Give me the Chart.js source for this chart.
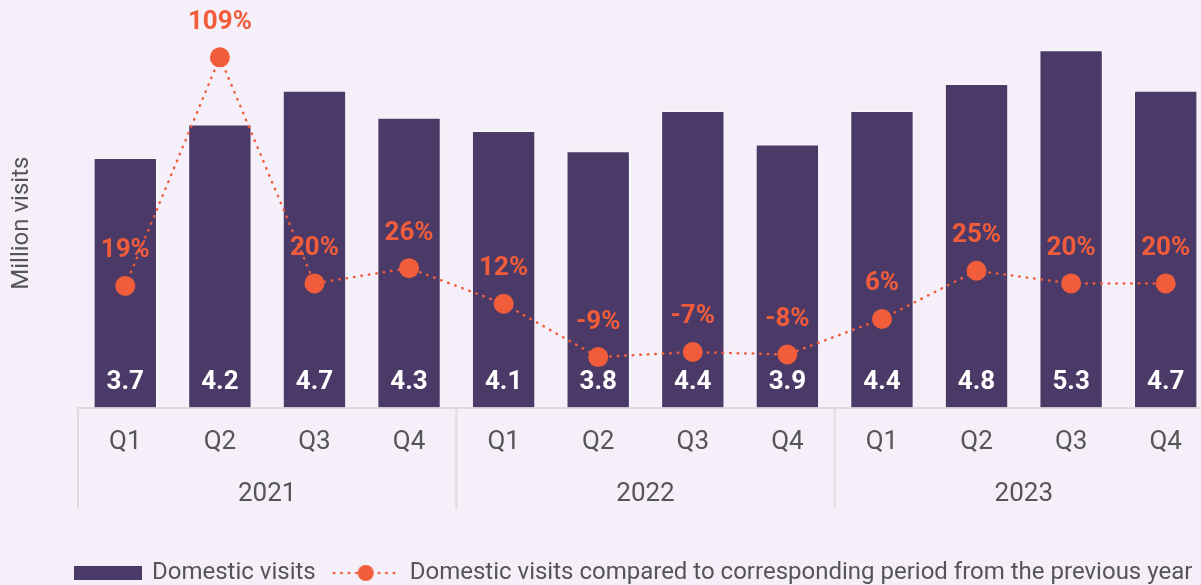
<!DOCTYPE html>
<html>
<head>
<meta charset="utf-8">
<script src="https://cdn.jsdelivr.net/npm/chart.js@4.4.0/dist/chart.umd.min.js"></script>
<style>
  html, body { margin: 0; padding: 0; background: #f5effa; overflow: hidden; }
  #wrap { position: relative; width: 1213px; height: 595px; }
</style>
</head>
<body>
<div id="wrap"><canvas id="chart"></canvas></div>
<script>
const quarters = ['Q1', 'Q2', 'Q3', 'Q4', 'Q1', 'Q2', 'Q3', 'Q4', 'Q1', 'Q2', 'Q3', 'Q4'];
const years = ['2021', '2022', '2023'];
const domesticVisits = [3.7, 4.2, 4.7, 4.3, 4.1, 3.8, 4.4, 3.9, 4.4, 4.8, 5.3, 4.7];
const yearOnYearChange = [19, 109, 20, 26, 12, -9, -7, -8, 6, 25, 20, 20];

const PURPLE = '#4b3a67';
const ORANGE = '#f15c3a';
const GREY = '#555555';
const LINE_GREY = '#dcdcdc';
const FONT = "Roboto, 'Noto Sans', sans-serif";
const YEAR_ROW_EXTRA = 30;

Chart.defaults.font.family = FONT;
Chart.defaults.color = GREY;

// legend icons
const barIcon = document.createElement('canvas');
barIcon.width = 68;
barIcon.height = 14;
{
  const c = barIcon.getContext('2d');
  c.fillStyle = PURPLE;
  c.fillRect(0, 0, 68, 14);
}
const lineIcon = document.createElement('canvas');
lineIcon.width = 68;
lineIcon.height = 18;
{
  const c = lineIcon.getContext('2d');
  c.strokeStyle = ORANGE;
  c.lineWidth = 2.5;
  c.lineCap = 'round';
  c.setLineDash([0.5, 7]);
  c.beginPath();
  c.moveTo(2, 9);
  c.lineTo(66, 9);
  c.stroke();
  c.fillStyle = ORANGE;
  c.beginPath();
  c.arc(34, 9, 8, 0, Math.PI * 2);
  c.fill();
}

const valueLabels = {
  id: 'valueLabels',
  afterDatasetsDraw(chart) {
    const ctx = chart.ctx;
    ctx.save();
    ctx.textAlign = 'center';
    ctx.textBaseline = 'middle';
    ctx.font = `bold 26px ${FONT}`;
    chart.getDatasetMeta(0).data.forEach((bar, i) => {
      ctx.fillStyle = '#ffffff';
      ctx.fillText(domesticVisits[i].toFixed(1), bar.x, bar.base - 25);
    });
    chart.getDatasetMeta(1).data.forEach((pt, i) => {
      ctx.fillStyle = ORANGE;
      ctx.fillText(yearOnYearChange[i] + '%', pt.x, pt.y - 35);
    });
    ctx.restore();
  },
};

// vertical separators between the year groups
const groupLines = {
  id: 'groupLines',
  afterDraw(chart) {
    const { x, x2 } = chart.scales;
    const half = (x2.getPixelForValue(1) - x2.getPixelForValue(0)) / 2;
    const ctx = chart.ctx;
    ctx.save();
    ctx.strokeStyle = LINE_GREY;
    ctx.lineWidth = 2;
    for (let g = 0; g <= years.length; g++) {
      const px = x2.getPixelForValue(g) - half;
      ctx.beginPath();
      ctx.moveTo(px, x.top);
      ctx.lineTo(px, x2.bottom - YEAR_ROW_EXTRA - 4);
      ctx.stroke();
    }
    ctx.restore();
  },
};

new Chart(document.getElementById('chart'), {
  type: 'bar',
  data: {
    labels: quarters,
    datasets: [
      {
        label: 'Domestic visits',
        data: domesticVisits,
        backgroundColor: PURPLE,
        borderColor: 'rgba(255,255,255,0.55)',
        borderWidth: 1,
        barPercentage: 0.67,
        categoryPercentage: 1,
        yAxisID: 'y',
        order: 2,
      },
      {
        type: 'line',
        label: 'Domestic visits compared to corresponding period from the previous year',
        data: yearOnYearChange,
        yAxisID: 'y2',
        borderColor: ORANGE,
        borderWidth: 2.5,
        borderDash: [0.5, 7],
        borderCapStyle: 'round',
        pointRadius: 10,
        pointHoverRadius: 10,
        pointBackgroundColor: ORANGE,
        pointBorderWidth: 0,
        tension: 0,
        order: 1,
      },
    ],
  },
  options: {
    responsive: true,
    maintainAspectRatio: false,
    animation: false,
    layout: { autoPadding: false, padding: { top: 3, left: 58, right: 0, bottom: 0 } },
    plugins: {
      tooltip: { enabled: false },
      legend: {
        position: 'bottom',
        align: 'start',
        labels: {
          usePointStyle: true,
          pointStyleWidth: 64,
          boxHeight: 14,
          padding: 18,
          color: GREY,
          font: { size: 24 },
          generateLabels: (chart) =>
            chart.data.datasets.map((ds, i) => ({
              text: ds.label,
              pointStyle: i === 0 ? barIcon : lineIcon,
              fillStyle: i === 0 ? PURPLE : ORANGE,
              strokeStyle: 'transparent',
              lineWidth: 0,
              fontColor: GREY,
              hidden: false,
              datasetIndex: i,
            })),
        },
      },
    },
    scales: {
      x: {
        weight: 0,
        grid: { display: false, drawTicks: false },
        border: { display: true, color: LINE_GREY, width: 2 },
        ticks: { font: { size: 26 }, color: GREY, padding: 19 },
      },
      x2: {
        type: 'category',
        labels: years,
        position: 'bottom',
        weight: 1,
        offset: true,
        grid: { display: false, drawTicks: false },
        border: { display: false },
        ticks: { font: { size: 26 }, color: GREY, padding: 2.5 },
        afterFit: (scale) => {
          scale.height += YEAR_ROW_EXTRA;
        },
      },
      y: {
        min: 0,
        max: 6,
        grid: { display: false, drawTicks: false },
        border: { display: false },
        ticks: { display: false },
        title: {
          display: true,
          text: 'Million visits' + ' '.repeat(6),
          font: { size: 24 },
          color: GREY,
          // pulled left past the layout padding so the legend can start under the bars
          padding: { top: -50.4, bottom: 41.6 },
        },
      },
      y2: {
        display: false,
        min: -28.9,
        max: 130.4,
      },
    },
  },
  plugins: [valueLabels, groupLines],
});
</script>
</body>
</html>
